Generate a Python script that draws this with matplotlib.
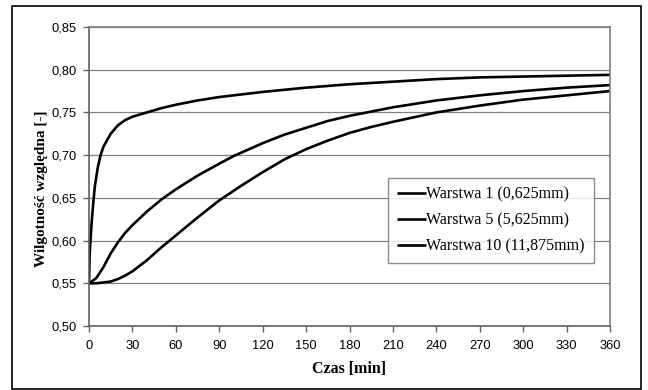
import matplotlib
matplotlib.use("Agg")
import matplotlib.pyplot as plt
from matplotlib.patches import Rectangle
from matplotlib.ticker import FuncFormatter

t1 = [0, 0.5, 1, 2, 3, 4, 6, 8, 10, 15, 20, 25, 30, 40, 50, 60, 75, 90, 120, 150, 180, 210, 240, 270, 300, 330, 360]
w1 = [0.55, 0.585, 0.60, 0.625, 0.645, 0.663, 0.685, 0.700, 0.710, 0.725, 0.735, 0.741, 0.745, 0.750, 0.755, 0.759, 0.764, 0.768, 0.774, 0.779, 0.783, 0.786, 0.789, 0.791, 0.792, 0.793, 0.794]

t5 = [0, 5, 10, 15, 20, 25, 30, 40, 50, 60, 75, 90, 100, 120, 135, 150, 165, 180, 210, 240, 270, 300, 330, 360]
w5 = [0.55, 0.556, 0.569, 0.585, 0.598, 0.609, 0.618, 0.634, 0.648, 0.660, 0.676, 0.690, 0.699, 0.714, 0.724, 0.732, 0.740, 0.746, 0.756, 0.764, 0.770, 0.775, 0.779, 0.782]

t10 = [0, 5, 10, 15, 20, 25, 30, 40, 50, 60, 75, 90, 105, 120, 135, 150, 165, 180, 195, 210, 240, 270, 300, 330, 360]
w10 = [0.55, 0.55, 0.551, 0.552, 0.555, 0.559, 0.564, 0.577, 0.592, 0.606, 0.627, 0.647, 0.664, 0.680, 0.695, 0.707, 0.717, 0.726, 0.733, 0.739, 0.750, 0.758, 0.765, 0.770, 0.775]

labels = ["Warstwa 1 (0,625mm)", "Warstwa 5 (5,625mm)", "Warstwa 10 (11,875mm)"]
xticks = list(range(0, 361, 30))
yticks = [0.50, 0.55, 0.60, 0.65, 0.70, 0.75, 0.80, 0.85]

fig = plt.figure(figsize=(6.48, 3.9), dpi=100)
ax = fig.add_axes([89/648, 1-326/390, (610-89)/648, (326-27)/390])

for t, w, lab in zip([t1, t5, t10], [w1, w5, w10], labels):
    ax.plot(t, w, color="black", lw=1.9, label=lab, solid_capstyle="butt", solid_joinstyle="round")

ax.set_xlim(0, 360)
ax.set_ylim(0.50, 0.85)
ax.set_xticks(xticks)
ax.set_yticks(yticks)
ax.yaxis.set_major_formatter(FuncFormatter(lambda v, p: f"{v:.2f}".replace(".", ",")))
ax.grid(axis="y", color="#808080", lw=0.9)
ax.set_axisbelow(True)
for s in ["top", "right"]:
    ax.spines[s].set_color("#808080")
    ax.spines[s].set_linewidth(1.2)
for s in ["left", "bottom"]:
    ax.spines[s].set_color("#606060")
    ax.spines[s].set_linewidth(1.2)
ax.tick_params(direction="out", length=4, width=1, color="#606060",
               labelsize=9.3, labelfontfamily="Liberation Sans")
ax.tick_params(axis="x", pad=6)
ax.tick_params(axis="y", pad=5)

ax.set_xlabel("Czas [min]", fontfamily="Liberation Serif", fontweight="bold", fontsize=11.5)
ax.set_ylabel("Wilgotność względna [-]", fontfamily="Liberation Serif", fontweight="bold", fontsize=11)
ax.xaxis.set_label_coords(0.5, (326-361)/299)
ax.yaxis.set_label_coords((48-89)/521, (326-189)/299)

leg = ax.legend(loc="upper left", bbox_to_anchor=((388-89)/521, (326-178)/299),
                prop={"family": "Liberation Serif", "size": 11.5},
                frameon=True, fancybox=False, handlelength=1.8, handletextpad=0.05,
                borderpad=0.55, labelspacing=0.62, borderaxespad=0)
leg.get_frame().set_edgecolor("#707070")
leg.get_frame().set_linewidth(1.0)

fig.patches.append(Rectangle((12/648, 1/390), (641-12)/648, (383)/390, transform=fig.transFigure,
                             fill=False, edgecolor="black", lw=1.2))

fig.savefig("out.png", dpi=100)
